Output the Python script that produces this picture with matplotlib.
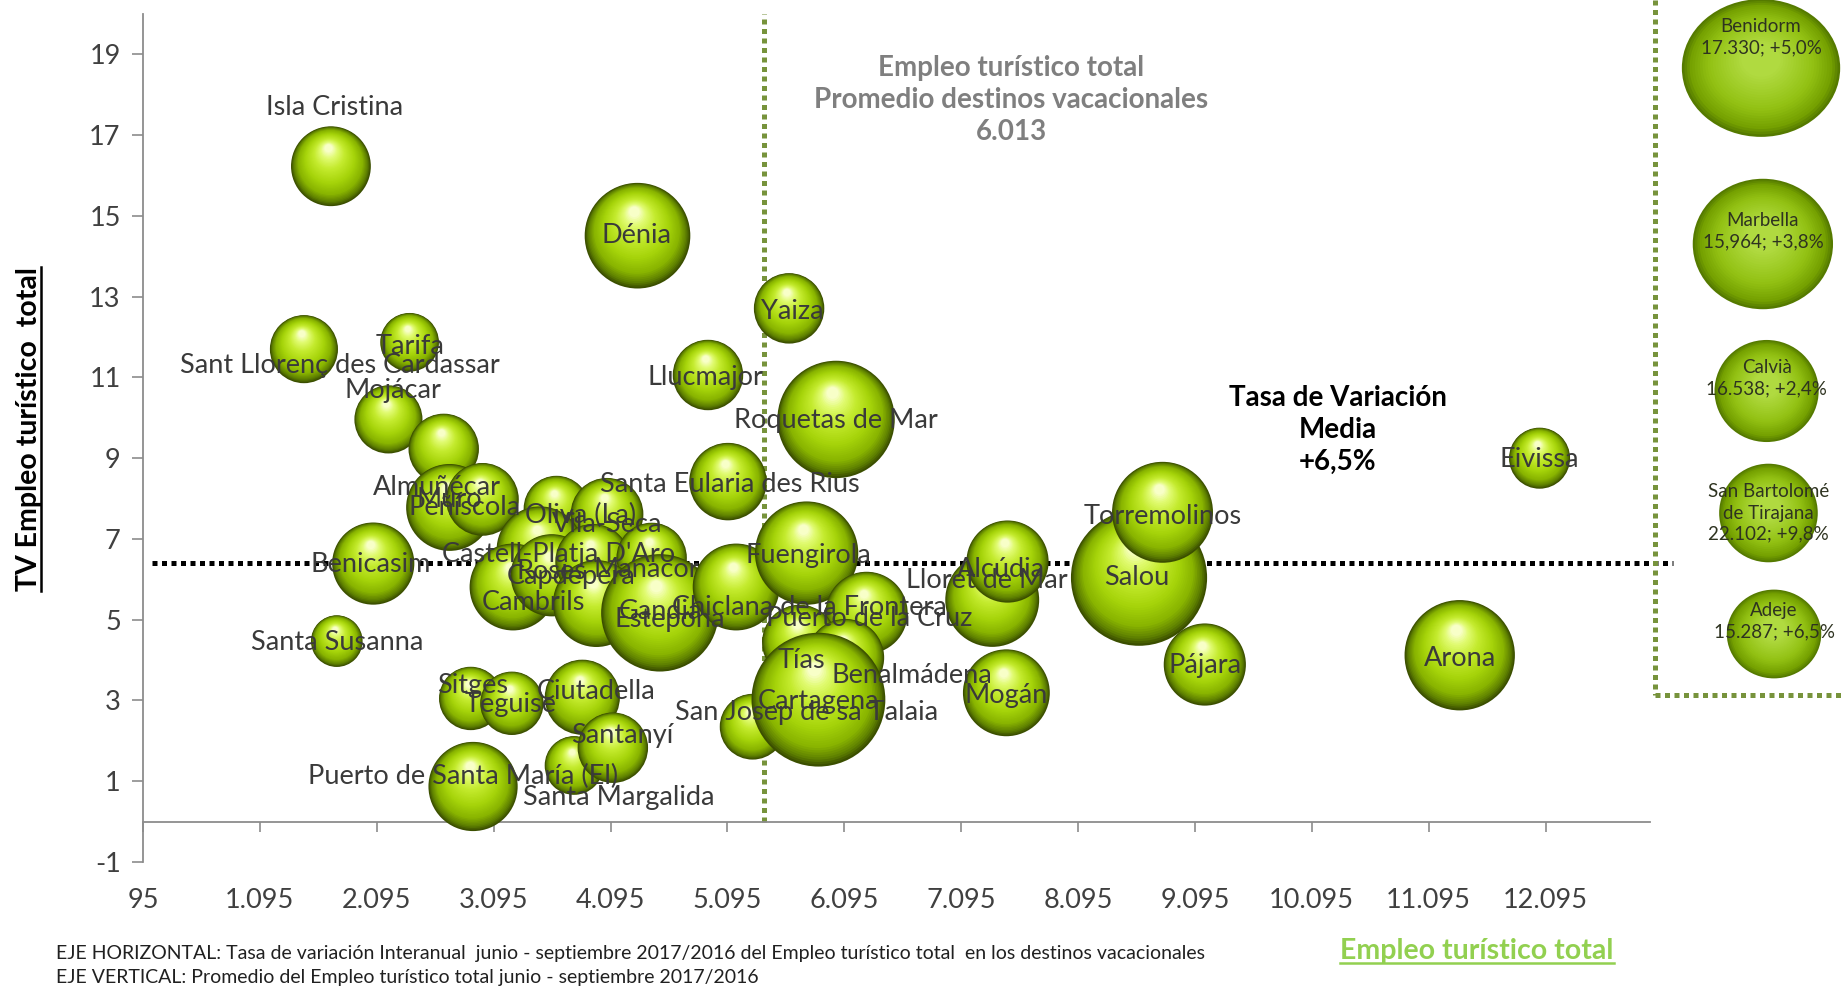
import numpy as np
import matplotlib
matplotlib.use("Agg")
import matplotlib.pyplot as plt
from matplotlib.lines import Line2D
from matplotlib.colors import LinearSegmentedColormap
from matplotlib.path import Path
from matplotlib.transforms import Affine2D

plt.rcParams['font.family'] = ['Lato', 'DejaVu Sans']
plt.rcParams['axes.unicode_minus'] = False

# ---------------- data ----------------
destinos = ["Isla Cristina", "Sant Llorenç des Cardassar", "Tarifa", "Mojácar",
            "Almuñécar", "Muro", "Peñíscola", "Oliva (La)", "Vila-Seca",
            "Santa Eularia des Rius", "Castell-Platja D'Aro", "Cambrils", "Capdepera",
            "Roses", "Manacor", "Gandia", "Estepona", "Chiclana de la Frontera",
            "Fuengirola", "Puerto de la Cruz", "Benicasim", "Santa Susanna",
            "Sitges", "Teguise", "Ciutadella", "Santa Margalida", "Santanyí",
            "Puerto de Santa María (El)", "San Josep de sa Talaia", "Tías",
            "Benalmádena", "Cartagena", "Mogán", "Lloret de Mar", "Alcúdia",
            "Salou", "Torremolinos", "Pájara", "Arona", "Eivissa",
            "Roquetas de Mar", "Llucmajor", "Yaiza", "Dénia"]
empleo = [1703, 1472, 2376, 2195,
          2668, 2718, 2999, 3633, 4065,
          5100, 3492, 3261, 3592,
          3944, 4447, 3974, 4517, 5170,
          5773, 6286, 2065, 1753,
          2899, 3251, 3854, 3783, 4115,
          2919, 5311, 5713,
          6105, 5874, 7482, 7361, 7492,
          8617, 8818, 9180, 11361, 12044,
          6025, 4929, 5623, 4326]
tv_empleo = [16.23, 11.70, 11.87, 9.96,
             9.23, 7.78, 7.98, 7.75, 7.61,
             8.42, 6.73, 5.81, 6.10,
             6.44, 6.53, 5.40, 5.17, 5.81,
             6.65, 5.17, 6.39, 4.47,
             3.05, 2.93, 3.08, 1.39, 1.83,
             0.87, 2.35, 4.44,
             4.06, 3.02, 3.19, 5.49, 6.44,
             6.04, 7.66, 3.89, 4.12, 9.00,
             9.96, 11.06, 12.71, 14.51]
tamano = [1156, 841, 625, 841,
          900, 1369, 961, 784, 961,
          1089, 1369, 1369, 1225,
          1024, 900, 1369, 2500, 1369,
          1936, 1225, 1225, 484,
          729, 729, 1024, 625, 900,
          1444, 784, 1024,
          1089, 3249, 1369, 1600, 1225,
          3364, 1849, 1225, 2209, 676,
          2500, 900, 900, 2025]

tv_media = 6.41          # dotted black line (+6,5%)
empleo_promedio_linea = 5410   # dotted green line as drawn

x_ticks = [95 + 1000 * i for i in range(13)]
x_ticklabels = ["95", "1.095", "2.095", "3.095", "4.095", "5.095", "6.095",
                "7.095", "8.095", "9.095", "10.095", "11.095", "12.095"]
y_ticks = [-1, 1, 3, 5, 7, 9, 11, 13, 15, 17, 19]

# outliers shown in the right-hand box
rec_nombres = ["Benidorm", "Marbella", "Calvià", "San Bartolomé\nde Tirajana", "Adeje"]
rec_empleo = ["17.330", "15,964", "16.538", "22.102", "15.287"]
rec_tv = ["+5,0%", "+3,8%", "+2,4%", "+9,8%", "+6,5%"]
rec_tamano = [114, 101, 75, 71, 68]

# ---------------- layout (label offsets in points) ----------------
label_off = [(2.5, 42), (26, -12), (0, -3), (3, 21),
             (-5, -28), (0, 6), (-13, -6), (17, -5), (0, -7),
             (1, -2), (13, -3), (15, -11), (14, -1),
             (-30, -7), (-4, -8), (46, -6), (7, -5), (53, -15),
             (1, -2), (2, -4), (-2, -1), (0, -1),
             (1, 9), (-1, -1), (10, 4), (32, -23), (7, 9),
             (-7, 7), (39, 10), (1, -13),
             (48, -13), (0, -1), (0, -2), (-4, 14), (-5, -6),
             (-2, 0), (0, -3), (0, -1), (0, -2), (0, -1),
             (0, -1), (-2, -2), (2, -2), (-1, 0)]

W, H = 1841, 989
fig = plt.figure(figsize=(W / 100, H / 100), dpi=100)
fig.patch.set_facecolor("white")
ax = fig.add_axes([143 / W, 1 - 862 / H, (1650 - 143) / W, (862 - 14) / H])
ax.set_xlim(95, 12989)
ax.set_ylim(-1, 20)
ax.set_facecolor("none")

for sp in ["top", "right"]:
    ax.spines[sp].set_visible(False)
ax.spines["left"].set_color("#8c8c8c")
ax.spines["left"].set_linewidth(1.3)
ax.spines["bottom"].set_position(("data", 0))
ax.spines["bottom"].set_color("#8c8c8c")
ax.spines["bottom"].set_linewidth(1.3)

ax.set_xticks(x_ticks)
ax.set_xticklabels(x_ticklabels)
ax.set_yticks(y_ticks)
ax.tick_params(axis="x", direction="out", length=7, width=1.2, color="#8c8c8c",
               labelsize=19.5, labelcolor="#404040", pad=41)
ax.tick_params(axis="y", direction="out", length=8, width=1.2, color="#8c8c8c",
               labelsize=19.5, labelcolor="#404040", pad=8)

# reference lines
ax.plot([175, 13190], [tv_media, tv_media], color="black", lw=3.6,
        linestyle=(0, (1.0, 0.9)), dash_capstyle="butt", clip_on=False, zorder=3)
ax.plot([empleo_promedio_linea, empleo_promedio_linea], [0, 20], color="#77933c", lw=3.6,
        linestyle=(0, (1.0, 0.9)), dash_capstyle="butt", clip_on=False, zorder=1)

# sphere shading
cmap = LinearSegmentedColormap.from_list("sph", [
    (0.0, "#3b4f00"), (0.07, "#5e7f00"), (0.2, "#88b300"), (0.42, "#a6d40a"),
    (0.68, "#c4eb2e"), (0.87, "#e0fb70"), (1.0, "#f8ffc8")])
N = 40
ts = np.linspace(0, 1, N)
fac = 1 - 0.9 * ts
fig.canvas.draw()
inv = ax.transData.inverted()
for i, (x, y, t) in enumerate(zip(empleo, tv_empleo, tamano)):
    s = 2.857 * t
    cx, cy = ax.transData.transform((x, y))
    r_px = np.sqrt(s) / 2 * fig.dpi / 72
    dx = -0.06 * ts * r_px
    dy = 0.45 * ts * r_px
    pts = inv.transform(np.column_stack([cx + dx, cy + dy]))
    ax.scatter(pts[:, 0], pts[:, 1], s=s * fac ** 2, c=cmap(ts), linewidths=0,
               zorder=5 + i * 0.01)

for name, x, y, (ox, oy) in zip(destinos, empleo, tv_empleo, label_off):
    ax.annotate(name, (x, y), xytext=(ox, oy), textcoords="offset points",
                ha="center", va="center", fontsize=19.5, color="#3a3a3a", zorder=20)

# annotations
fig.text(1011 / W, 1 - 100 / H, "Empleo turístico total\nPromedio destinos vacacionales\n6.013",
         ha="center", va="center", fontsize=20, fontweight="bold", color="#7f7f7f",
         linespacing=1.3)
fig.text(1338 / W, 1 - 430 / H, "Tasa de Variación\nMedia\n+6,5%",
         ha="center", va="center", fontsize=20, fontweight="bold", color="black",
         linespacing=1.3)

ylab = fig.text(29 / W, 1 - 429 / H, "TV Empleo turístico  total", rotation=90,
                ha="center", va="center", fontsize=20.5, fontweight="bold", color="black")
fig.text(56 / W, 1 - 953 / H,
         "EJE HORIZONTAL: Tasa de variación Interanual  junio - septiembre 2017/2016 del Empleo turístico total  en los destinos vacacionales",
         ha="left", va="center", fontsize=14, color="#202020")
fig.text(56 / W, 1 - 977 / H,
         "EJE VERTICAL: Promedio del Empleo turístico total junio - septiembre 2017/2016",
         ha="left", va="center", fontsize=14, color="#202020")
glab = fig.text(1477 / W, 1 - 951 / H, "Empleo turístico total", ha="center", va="center",
                fontsize=20.5, fontweight="bold", color="#92d050")

# right box
fig.add_artist(Line2D([1655 / W, 1655 / W], [1.0, 1 - 695 / H], transform=fig.transFigure,
                      color="#77933c", lw=3.6, linestyle=(0, (1.0, 0.9)), dash_capstyle="butt"))
fig.add_artist(Line2D([1655 / W, 1.0], [1 - 695 / H, 1 - 695 / H], transform=fig.transFigure,
                      color="#77933c", lw=3.6, linestyle=(0, (1.0, 0.9)), dash_capstyle="butt"))

ax2 = fig.add_axes([1655 / W, 1 - 695 / H, 186 / W, 695 / H])
ax2.set_xlim(0, 1)
ax2.set_ylim(695, 0)
ax2.axis("off")
slot_y = [68, 244, 391, 513, 634]
slot_x = [0.57, 0.58, 0.60, 0.61, 0.64]
ratio = [0.87, 0.93, 0.98, 1.0, 0.94]
text_dy = [22, 9, 9, 0, 9]
cmap2 = LinearSegmentedColormap.from_list("flat", [
    (0.0, "#557a00"), (0.12, "#74a000"), (0.45, "#93c214"), (1.0, "#b0da40")])
fig.canvas.draw()
inv2 = ax2.transData.inverted()
N2 = 24
ts2 = np.linspace(0, 1, N2)
fac2 = 1 - 0.75 * ts2
for i in range(len(rec_nombres)):
    marker = Path.unit_circle().transformed(Affine2D().scale(1, ratio[i]))
    s = rec_tamano[i] ** 2
    cx, cy = ax2.transData.transform((slot_x[i], slot_y[i]))
    r_px = np.sqrt(s) / 2 * fig.dpi / 72
    pts = inv2.transform(np.column_stack([cx + 0 * ts2, cy + 0.12 * ts2 * r_px * ratio[i]]))
    ax2.scatter(pts[:, 0], pts[:, 1], s=s * fac2 ** 2, c=cmap2(ts2), marker=marker,
                linewidths=0, clip_on=False, zorder=2)
    ax2.annotate(f"{rec_nombres[i]}\n{rec_empleo[i]}; {rec_tv[i]}", (slot_x[i], slot_y[i]),
                 xytext=(0, text_dy[i]), textcoords="offset points", ha="center", va="center",
                 fontsize=13.5, color="#2e3320", linespacing=1.3, zorder=5,
                 annotation_clip=False)

# underlines
fig.canvas.draw()
r = fig.canvas.get_renderer()
bb = ylab.get_window_extent(r)
fig.add_artist(Line2D([(bb.x1 - 1) / W] * 2, [bb.y0 / H, bb.y1 / H], transform=fig.transFigure,
                      color="black", lw=1.8))
bb = glab.get_window_extent(r)
fig.add_artist(Line2D([bb.x0 / W, bb.x1 / W], [(bb.y0 + 1) / H] * 2, transform=fig.transFigure,
                      color="#92d050", lw=1.8))

fig.savefig("out.png", dpi=100, facecolor="white")
